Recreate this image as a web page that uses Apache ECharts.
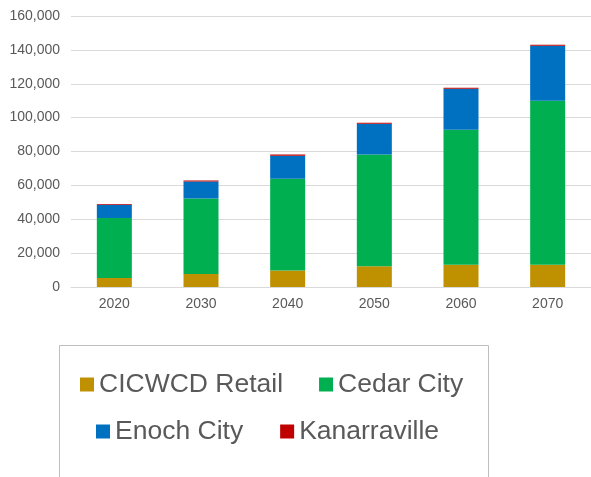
<!DOCTYPE html>
<html>
<head>
<meta charset="utf-8">
<script src="https://cdn.jsdelivr.net/npm/echarts@6/dist/echarts.min.js"></script>
<style>
  html, body { margin: 0; padding: 0; background: #fff; }
  #chart { width: 591px; height: 477px; }
</style>
</head>
<body>
<div id="chart"></div>
<script>
// data
const years = ['2020', '2030', '2040', '2050', '2060', '2070']
const retail = [5300, 7700, 9800, 12200, 13200, 13200]
const cedar = [35400, 44600, 54100, 66100, 79600, 96700]
const enoch = [7800, 10000, 13600, 18100, 24200, 32500]
const kanarra = [500, 600, 800, 600, 600, 600]

const names = ['CICWCD Retail', 'Cedar City', 'Enoch City', 'Kanarraville']
const colors = ['#BF9000', '#00B050', '#0070C0', '#C00000']

const chart = echarts.init(document.getElementById('chart'))

const legendText = { fontFamily: 'Liberation Sans', fontSize: 26.5, color: '#595959' }

function bar(name, data, i) {
  return {
    name: name,
    type: 'bar',
    stack: 'total',
    barWidth: 35,
    data: data,
    itemStyle: { color: colors[i] },
  }
}

chart.setOption({
  animation: false,
  color: colors,
  grid: { left: 71, right: -4, top: 16, height: 271 },
  xAxis: {
    type: 'category',
    data: years,
    axisTick: { show: false },
    axisLine: { lineStyle: { color: '#d9d9d9' } },
    axisLabel: { fontFamily: 'Liberation Sans', fontSize: 14, color: '#595959', margin: 10 },
  },
  yAxis: {
    type: 'value',
    min: 0,
    max: 160000,
    interval: 20000,
    axisLabel: {
      fontFamily: 'Liberation Sans',
      fontSize: 14,
      color: '#595959',
      margin: 11,
      formatter: v => v.toLocaleString('en-US'),
    },
    splitLine: { lineStyle: { color: '#d9d9d9' } },
  },
  legend: [
    {
      data: names.slice(0, 2),
      left: 75,
      top: 366,
      itemWidth: 14,
      itemHeight: 14,
      itemGap: 36,
      icon: 'rect',
      textStyle: legendText,
    },
    {
      data: names.slice(2),
      left: 91,
      top: 413,
      itemWidth: 14,
      itemHeight: 14,
      itemGap: 37,
      icon: 'rect',
      textStyle: legendText,
    },
  ],
  graphic: [
    {
      type: 'rect',
      shape: { x: 59.5, y: 345.5, width: 429, height: 140 },
      style: { fill: 'none', stroke: '#bfbfbf', lineWidth: 1 },
      z: -1,
    },
  ],
  series: [
    bar(names[0], retail, 0),
    bar(names[1], cedar, 1),
    bar(names[2], enoch, 2),
    bar(names[3], kanarra, 3),
  ],
})
</script>
</body>
</html>
